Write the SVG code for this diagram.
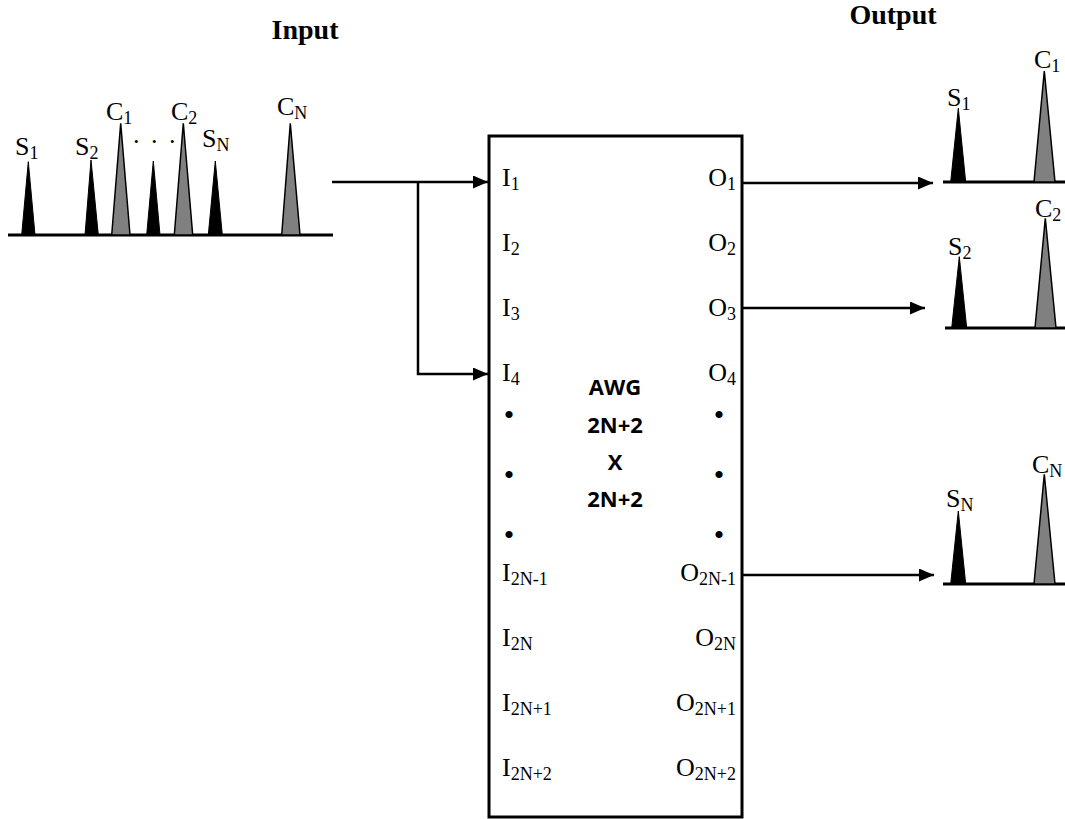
<svg xmlns="http://www.w3.org/2000/svg" width="1065" height="819" viewBox="0 0 1065 819">
<style>
.lbl{font-family:"Liberation Serif","Times New Roman",serif;font-size:26px;fill:#000}
.sub{font-size:18px}
.title{font-family:"Liberation Serif","Times New Roman",serif;font-size:28px;font-weight:bold;fill:#000}
.awg{font-family:"Open Sans","Liberation Sans",sans-serif;font-size:22px;font-weight:bold;fill:#000;text-anchor:middle}
.dot{font-family:"Liberation Serif","Times New Roman",serif;font-size:30px;fill:#000;text-anchor:middle}
.blk{fill:#000;stroke:#000;stroke-width:1;stroke-linejoin:miter}
.gry{fill:#808080;stroke:#000;stroke-width:1.5;stroke-linejoin:miter}
.base{stroke:#000;stroke-width:3;fill:none}
.conn{stroke:#000;stroke-width:2.5;fill:none}
</style>
<defs>
<marker id="arrow" markerUnits="userSpaceOnUse" markerWidth="16" markerHeight="14" refX="15" refY="6.5" orient="auto">
<path d="M0,0 L15,6.5 L0,13 z" fill="#000"/>
</marker>
</defs>
<rect width="1065" height="819" fill="#fff"/>

<g id="input-title"><text class="title" x="305" y="39" text-anchor="middle">Input</text></g>
<g id="output-title"><text class="title" x="893" y="24" text-anchor="middle">Output</text></g>

<g id="input-signal">
<line class="base" x1="8" y1="235" x2="333" y2="235"/>
<polygon class="blk" points="21.7,235 28.3,161.7 35,235"/>
<polygon class="blk" points="85,235 91,160 98.3,235"/>
<polygon class="gry" points="111.7,235 120.7,123.3 130,235"/>
<polygon class="blk" points="146.7,235 153.3,161 160,235"/>
<polygon class="gry" points="174.3,235 183.3,123.3 192.7,235"/>
<polygon class="blk" points="208.3,235 215.3,161 222.3,235"/>
<polygon class="gry" points="281.7,235 290.3,123.3 300,235"/>
<text class="lbl" x="15" y="155">S<tspan class="sub" dy="4">1</tspan></text>
<text class="lbl" x="75" y="155">S<tspan class="sub" dy="4">2</tspan></text>
<text class="lbl" x="106" y="120">C<tspan class="sub" dy="4">1</tspan></text>
<text class="lbl" x="171" y="120">C<tspan class="sub" dy="4">2</tspan></text>
<text class="lbl" x="202" y="147">S<tspan class="sub" dy="4">N</tspan></text>
<text class="lbl" x="277" y="115">C<tspan class="sub" dy="4">N</tspan></text>
<text class="lbl" x="133 151 169" y="143">...</text>
</g>

<g id="awg">
<rect x="489" y="136" width="253" height="681" fill="none" stroke="#000" stroke-width="3"/>
<text class="lbl" x="502" y="186">I<tspan class="sub" dy="4">1</tspan></text>
<text class="lbl" x="502" y="251">I<tspan class="sub" dy="4">2</tspan></text>
<text class="lbl" x="502" y="316">I<tspan class="sub" dy="4">3</tspan></text>
<text class="lbl" x="502" y="381">I<tspan class="sub" dy="4">4</tspan></text>
<text class="lbl" x="502" y="581">I<tspan class="sub" dy="4">2N-1</tspan></text>
<text class="lbl" x="502" y="646">I<tspan class="sub" dy="4">2N</tspan></text>
<text class="lbl" x="502" y="711">I<tspan class="sub" dy="4">2N+1</tspan></text>
<text class="lbl" x="502" y="776">I<tspan class="sub" dy="4">2N+2</tspan></text>
<text class="lbl" x="736" y="186" text-anchor="end">O<tspan class="sub" dy="4">1</tspan></text>
<text class="lbl" x="736" y="251" text-anchor="end">O<tspan class="sub" dy="4">2</tspan></text>
<text class="lbl" x="736" y="316" text-anchor="end">O<tspan class="sub" dy="4">3</tspan></text>
<text class="lbl" x="736" y="381" text-anchor="end">O<tspan class="sub" dy="4">4</tspan></text>
<text class="lbl" x="736" y="581" text-anchor="end">O<tspan class="sub" dy="4">2N-1</tspan></text>
<text class="lbl" x="736" y="646" text-anchor="end">O<tspan class="sub" dy="4">2N</tspan></text>
<text class="lbl" x="736" y="711" text-anchor="end">O<tspan class="sub" dy="4">2N+1</tspan></text>
<text class="lbl" x="736" y="776" text-anchor="end">O<tspan class="sub" dy="4">2N+2</tspan></text>
<text class="dot" x="509" y="425">•</text>
<text class="dot" x="509" y="485">•</text>
<text class="dot" x="509" y="545">•</text>
<text class="dot" x="719" y="425">•</text>
<text class="dot" x="719" y="485">•</text>
<text class="dot" x="719" y="545">•</text>
<text class="awg" x="615" y="395">AWG</text>
<text class="awg" x="615" y="433">2N+2</text>
<text class="awg" x="615" y="470">X</text>
<text class="awg" x="615" y="507">2N+2</text>
</g>

<g id="output-signal-1">
<line class="base" x1="943" y1="182" x2="1065" y2="182"/>
<polygon class="blk" points="950.7,182 958.3,108.3 965.7,182"/>
<polygon class="gry" points="1034,182 1044.3,71 1055,182"/>
<text class="lbl" x="947" y="106">S<tspan class="sub" dy="4">1</tspan></text>
<text class="lbl" x="1034" y="68">C<tspan class="sub" dy="4">1</tspan></text>
</g>
<g id="output-signal-2">
<line class="base" x1="945" y1="328" x2="1065" y2="328"/>
<polygon class="blk" points="951.7,328 959.3,256.7 966.7,328"/>
<polygon class="gry" points="1035,328 1045.3,218.3 1056,328"/>
<text class="lbl" x="948" y="255">S<tspan class="sub" dy="4">2</tspan></text>
<text class="lbl" x="1035" y="217">C<tspan class="sub" dy="4">2</tspan></text>
</g>
<g id="output-signal-3">
<line class="base" x1="943" y1="584" x2="1065" y2="584"/>
<polygon class="blk" points="950.7,584 958.3,511 965.7,584"/>
<polygon class="gry" points="1034,584 1044.3,474.3 1055,584"/>
<text class="lbl" x="946" y="507">S<tspan class="sub" dy="4">N</tspan></text>
<text class="lbl" x="1032" y="473">C<tspan class="sub" dy="4">N</tspan></text>
</g>

<g id="connectors">
<path class="conn" d="M332,182 H488" marker-end="url(#arrow)"/>
<path class="conn" d="M418,182 V374 H488" stroke-width="2" marker-end="url(#arrow)"/>
<path class="conn" d="M742,183 H933" marker-end="url(#arrow)"/>
<path class="conn" d="M742,308 H925" marker-end="url(#arrow)"/>
<path class="conn" d="M742,575 H934" marker-end="url(#arrow)"/>
</g>
</svg>
